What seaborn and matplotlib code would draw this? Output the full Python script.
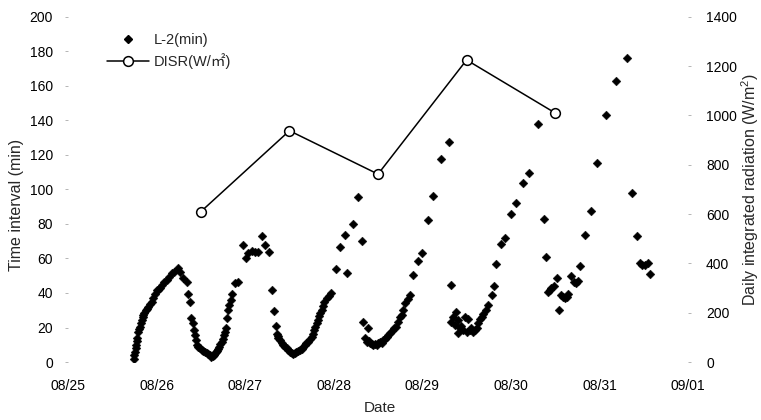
import matplotlib
matplotlib.use("Agg")
import matplotlib.pyplot as plt
from matplotlib.lines import Line2D
import seaborn as sns
import pandas as pd

# ---------------- data ----------------
start_date = "2008-08-25"
x_tick_labels = ["08/25", "08/26", "08/27", "08/28", "08/29", "08/30", "08/31", "09/01"]
left_ticks = [0, 20, 40, 60, 80, 100, 120, 140, 160, 180, 200]
right_ticks = [0, 200, 400, 600, 800, 1000, 1200, 1400]

# L-2 time interval (min); time given as hours after 08/25 00:00
l2_hours = [
    17.9, 18.0, 18.1, 18.3, 18.4, 18.6, 18.8, 19.0, 19.3, 19.5,
    19.8, 20.0, 20.2, 20.4, 20.7, 21.1, 21.5, 21.8, 22.2, 22.7,
    23.1, 23.6, 24.0, 24.5, 24.9, 25.5, 26.0, 26.7, 27.4, 28.1,
    28.8, 29.7, 30.3, 31.2, 32.2, 32.4, 33.0, 33.3, 33.8, 34.1,
    34.4, 34.7, 35.0, 35.3, 35.8, 36.2, 36.6, 37.1, 37.6, 38.0,
    38.5, 38.8, 39.2, 39.5, 39.8, 40.1, 40.4, 40.7, 41.0, 41.3,
    41.6, 42.0, 42.3, 42.5, 42.8, 43.1, 43.4, 43.7, 44.2, 44.5,
    45.2, 46.1, 47.3, 48.2, 48.8, 49.8, 50.7, 51.6, 52.5, 53.4, 54.5,
    55.4, 55.8, 56.3, 56.5, 56.8, 57.0, 57.4, 57.9, 58.3, 58.8,
    59.2, 59.7, 60.1, 60.6, 61.0, 61.5, 61.9, 62.4, 62.8, 63.3,
    63.7, 64.2, 64.6, 65.1, 65.5, 66.0, 66.4, 66.6, 67.0, 67.4,
    67.7, 68.1, 68.4, 68.7, 69.1, 69.4, 70.2, 70.7, 71.2, 72.5,
    73.7, 75.0, 75.7, 77.3, 78.6, 79.6,
    80.0, 80.5, 80.9, 81.3, 81.5, 81.8, 82.3, 82.7, 83.2, 83.6,
    84.1, 84.5, 85.0, 85.4, 85.9, 86.3, 86.8, 87.2, 87.8, 88.3,
    89.0, 89.5, 89.9, 90.4, 90.8, 91.4, 92.1, 92.6, 93.5, 94.9,
    95.8, 97.6, 99.0, 101.0, 103.3,
    103.7, 103.9, 104.4, 104.8, 105.1, 105.7, 105.8, 106.2, 106.6, 107.1,
    107.5, 108.0, 108.4, 108.9, 109.3, 109.8, 110.2, 110.7, 111.1, 111.6,
    112.1, 112.5, 113.2, 113.9, 114.8, 115.4, 116.1, 117.2, 118.5, 120.1,
    121.5, 123.2, 125.0, 127.4,
    128.9, 129.5, 130.1, 130.6, 131.0, 131.6, 132.6, 133.1, 133.7, 134.2,
    134.6, 135.1, 135.5, 136.2, 137.1, 137.6, 138.1, 138.7, 140.1, 141.7,
    143.4, 145.7, 148.6, 151.5, 152.9, 154.2, 154.9, 155.6, 156.3, 157.2, 157.8,
]
l2_minutes = [
    2, 4, 6, 8, 10, 12, 14, 17.5, 19, 20.5,
    22.5, 24.3, 26, 27, 28.5, 30, 31, 32, 33.5, 35,
    37, 39.5, 41.7, 42, 42.7, 44.5, 46.5, 47.5, 49.5, 51.4,
    52, 54.3, 52.4, 48.5, 46.5, 39.4, 35, 25.3, 22.4, 18.5,
    15.6, 12.8, 9.9, 8.8, 7.9, 7, 6.4, 5.6, 5, 4.5,
    4, 3.2, 3.5, 4.2, 5, 5.8, 6.4, 7.5, 8.9, 10.2,
    11.8, 13.5, 15.6, 17.5, 19.5, 25.3, 30, 33, 36, 39.4,
    46, 46.5, 67.8, 60, 63, 64.5, 64, 63.5, 73, 67.8, 64,
    42, 29.5, 21, 16.2, 15, 13.7, 12.5, 11.2, 10, 8.9,
    8, 7, 6, 5, 4.5, 5.5, 6, 6.5, 7, 7.5,
    8.5, 9.9, 10.8, 11.8, 13.2, 14.7, 16.5, 18.5, 20.5, 22.4,
    24.5, 26.7, 28.5, 30, 32.5, 35, 37, 38.5, 39.8, 54,
    66.9, 73.4, 51.6, 80, 95.8, 70,
    23, 13.7, 11.8, 19.5, 12, 10.8, 10.5, 9.9, 10.5, 9.9,
    11, 11.8, 10.8, 12.8, 13.5, 14.7, 15.5, 16.6, 18, 19.5,
    20.5, 23, 26, 27, 30, 34, 36.5, 38.8, 50.4, 58.5,
    63, 82, 96.2, 117.7, 127.5,
    44.6, 23.4, 26, 21.4, 29, 24.3, 16.6, 19.7, 21, 18.5,
    26, 17.6, 24.7, 18.5, 19.5, 17.6, 18.5, 19.5, 22.4, 24.7,
    26, 28, 30, 33, 38.8, 44, 57, 68.6, 71.6, 86,
    92, 103.6, 109.6, 138,
    82.7, 60.7, 40.8, 41.7, 42.7, 44, 48.5, 30, 38.8, 37.5,
    36.9, 37.5, 39.4, 49.9, 46.4, 45.5, 46.8, 55.7, 73.6, 87.3,
    115.5, 143, 162.7, 176, 98, 72.8, 57.6, 56.5, 56.2, 57.2, 51,
]

# DISR daily integrated radiation (W/m2), plotted at noon of each day
disr_hours = [36, 60, 84, 108, 132]
disr_values = [610, 938, 762, 1225, 1010]

# ---------------- build frames ----------------
start = pd.Timestamp(start_date)
df_l2 = pd.DataFrame({"time": start + pd.to_timedelta(l2_hours, unit="h"),
                      "L-2(min)": l2_minutes})
df_disr = pd.DataFrame({"time": start + pd.to_timedelta(disr_hours, unit="h"),
                        "DISR": disr_values})

# ---------------- figure ----------------
sns.set_theme(style="white")
plt.rcParams['font.family'] = ['Liberation Sans', 'Noto Sans CJK KR', 'DejaVu Sans']
plt.rcParams['mathtext.fontset'] = 'custom'
plt.rcParams['mathtext.rm'] = 'Liberation Sans'

fig = plt.figure(figsize=(7.61, 4.20), dpi=100)
ax = fig.add_axes([0.0894, 0.138, 0.8147, 0.822])
ax2 = ax.twinx()

sns.scatterplot(data=df_l2, x="time", y="L-2(min)", marker="D", s=20,
                color="black", edgecolor="black", linewidth=0.3, ax=ax, legend=False, zorder=3)
sns.lineplot(data=df_disr, x="time", y="DISR", ax=ax2, color="black", lw=1.1,
             marker="o", markersize=7, markerfacecolor="white",
             markeredgecolor="black", markeredgewidth=1.1, legend=False)

ax.set_xlim(start, start + pd.Timedelta(days=7))
ax.set_ylim(0, 200)
ax2.set_ylim(0, 1400)

xt = [start + pd.Timedelta(days=i) for i in range(len(x_tick_labels))]
ax.set_xticks(xt)
ax.set_xticklabels(x_tick_labels)
ax.set_yticks(left_ticks)
ax.set_yticklabels([str(v) for v in left_ticks])
ax2.set_yticks(right_ticks)
ax2.set_yticklabels([str(v) for v in right_ticks])

for a in (ax, ax2):
    for s in a.spines.values():
        s.set_visible(False)
    a.grid(False)

ax.tick_params(axis='x', length=0, pad=12, labelsize=10, colors='black')
ax.tick_params(axis='y', length=2, width=0.6, color='#aaaaaa', pad=9, labelsize=10,
               labelcolor='black', direction='out', left=True)
ax2.tick_params(axis='y', length=2, width=0.6, color='#aaaaaa', pad=11, labelsize=10,
                labelcolor='black', direction='out', right=True)

ax.set_xlabel("Date", fontsize=11)
ax.xaxis.set_label_coords(0.503, -0.113)
ax.set_ylabel("Time interval (min)", fontsize=11.5)
ax.yaxis.set_label_coords(-0.071, 0.455)
ax2.set_ylabel("Daily integrated radiation (W/m$^2$)", fontsize=11.5)
ax2.yaxis.set_label_coords(1.083, 0.5)

handles = [
    Line2D([], [], marker="D", linestyle="None", color="black", markersize=4),
    Line2D([], [], color="black", lw=1.1, marker="o", markersize=7,
           markerfacecolor="white", markeredgecolor="black", markeredgewidth=1.1),
]
ax2.legend(handles, ["L-2(min)", "DISR(W/㎡)"], loc="upper left",
           bbox_to_anchor=(0.133, 0.935), bbox_transform=fig.transFigure,
           frameon=False, fontsize=10.5, handlelength=2.9, handletextpad=0.3,
           labelspacing=0.4, borderaxespad=0)

fig.savefig("out.png", dpi=100)
